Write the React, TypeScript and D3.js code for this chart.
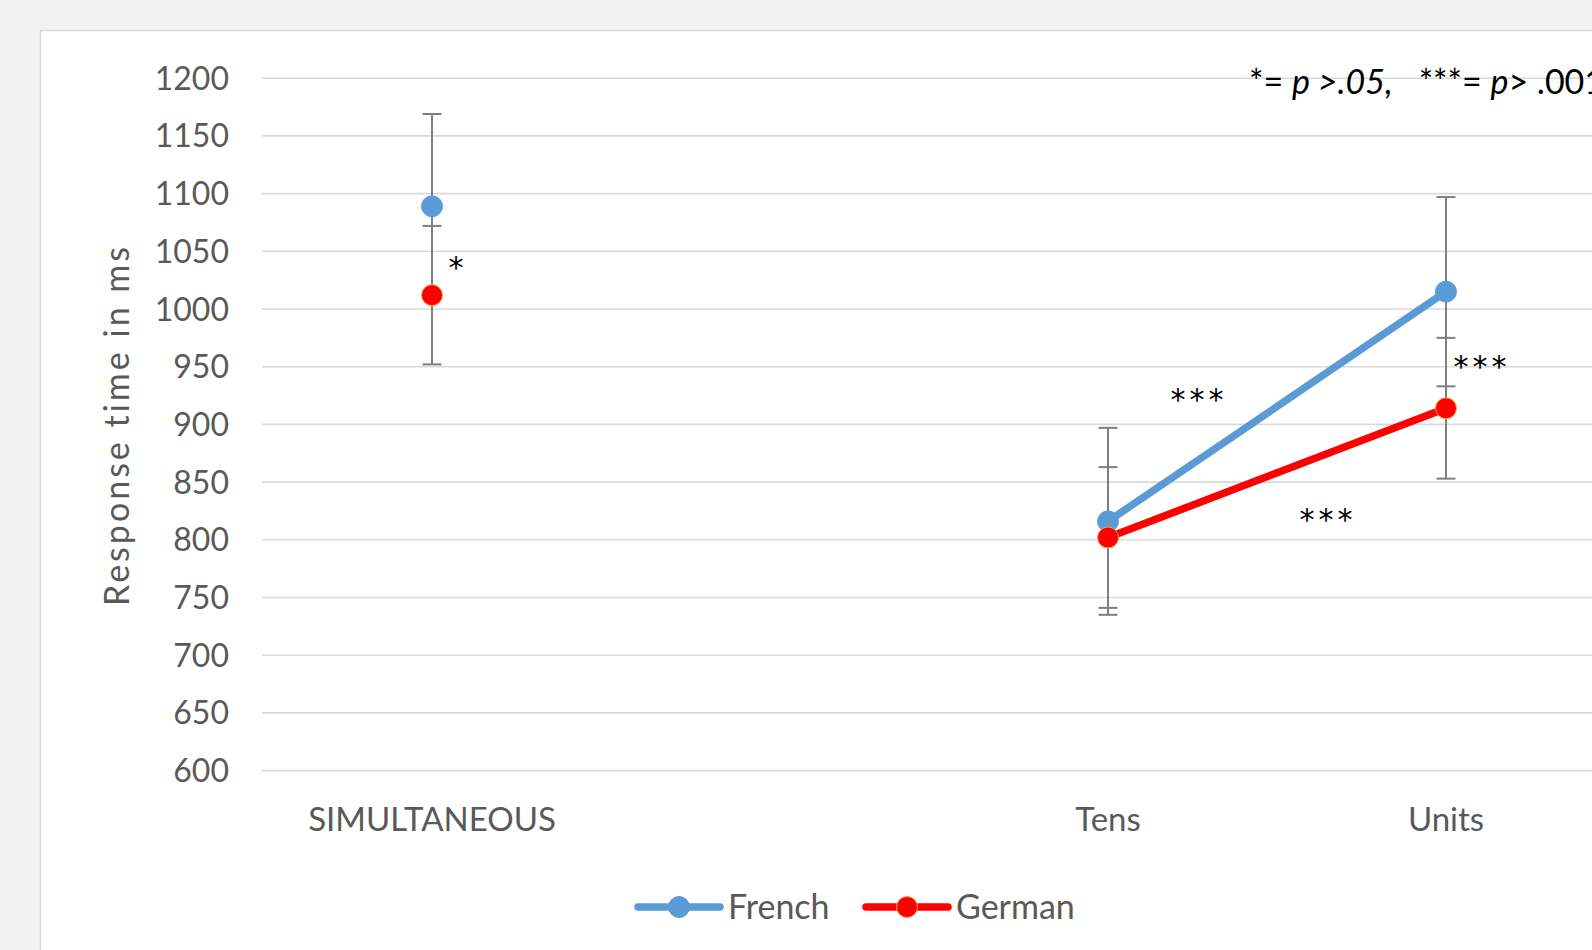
import React from "react";
import * as d3 from "d3";

const categories = ["SIMULTANEOUS", "gap", "Tens", "Units"];
const categoryLabels = ["SIMULTANEOUS", "", "Tens", "Units"];
const frenchValues: (number | null)[] = [1089, null, 816, 1015];
const germanValues: (number | null)[] = [1012, null, 802, 914];
const frenchErrors: (number | null)[] = [80, null, 81, 82];
const germanErrors: (number | null)[] = [60, null, 61, 61];
const yTicks = [600, 650, 700, 750, 800, 850, 900, 950, 1000, 1050, 1100, 1150, 1200];
const seriesNames = ["French", "German"];
const seriesColors = ["#5b9bd5", "#ff0000"];

type Annot = { cat: string; value: number; dx: number; text: string };
const annotations: Annot[] = [
  { cat: "SIMULTANEOUS", value: 1041, dx: 26, text: "*" },
  { cat: "Tens", value: 927, dx: 91, text: "***" },
  { cat: "Units", value: 823, dx: -118, text: "***" },
  { cat: "Units", value: 955, dx: 36, text: "***" },
];

const W = 1592;
const H = 950;
const FONT = "Lato, 'Open Sans', sans-serif";
const TEXT_GRAY = "#595959";

export default function App() {
  const x = d3.scaleBand<string>().domain(categories).range([263, 1615]).padding(0);
  const y = d3.scaleLinear().domain([600, 1200]).range([770.6, 78.2]);
  const cx = (c: string) => (x(c) ?? 0) + x.bandwidth() / 2;

  const series = [
    { name: seriesNames[0], values: frenchValues, errors: frenchErrors, color: seriesColors[0] },
    { name: seriesNames[1], values: germanValues, errors: germanErrors, color: seriesColors[1] },
  ];

  const line = d3
    .line<number | null>()
    .defined((d) => d != null)
    .x((_, i) => cx(categories[i]))
    .y((d) => y(d as number));

  const capHalf = 9.5;

  return (
    <svg
      width={W}
      height={H}
      style={{ position: "absolute", left: 0, top: 0, display: "block" }}
    >
      <rect x={0} y={0} width={W} height={H} fill="#f2f2f2" />
      <rect x={40.5} y={30.5} width={W + 20} height={H + 20} fill="#ffffff" stroke="#d9d9d9" strokeWidth={1.5} />

      {/* gridlines */}
      {yTicks.map((t) => (
        <line key={t} x1={262} x2={W} y1={y(t)} y2={y(t)} stroke="#d9d9d9" strokeWidth={1.6} />
      ))}

      {/* y tick labels */}
      {yTicks.map((t) => (
        <text
          key={"l" + t}
          x={229}
          y={y(t)}
          dy="0.36em"
          textAnchor="end"
          fontFamily={FONT}
          fontSize={32}
          fill={TEXT_GRAY}
        >
          {t}
        </text>
      ))}

      {/* y axis title */}
      <text
        transform={`translate(129, ${425}) rotate(-90)`}
        textAnchor="middle"
        fontFamily={FONT}
        fontSize={34}
        letterSpacing={3}
        fill={TEXT_GRAY}
      >
        Response time in ms
      </text>

      {/* x labels */}
      {categories.map((c, i) => (
        <text
          key={"x" + c}
          x={cx(c)}
          y={831}
          textAnchor="middle"
          fontFamily={FONT}
          fontSize={33}
          fill={TEXT_GRAY}
        >
          {categoryLabels[i]}
        </text>
      ))}

      {/* error bars */}
      {series.map((s) =>
        s.values.map((v, i) => {
          const e = s.errors[i];
          if (v == null || e == null) return null;
          const xc = cx(categories[i]);
          const y1 = y(v + e);
          const y2 = y(v - e);
          return (
            <g key={s.name + "e" + i} stroke="#7f7f7f" strokeWidth={2}>
              <line x1={xc} x2={xc} y1={y1} y2={y2} />
              <line x1={xc - capHalf} x2={xc + capHalf} y1={y1} y2={y1} />
              <line x1={xc - capHalf} x2={xc + capHalf} y1={y2} y2={y2} />
            </g>
          );
        })
      )}

      {/* lines */}
      {series.map((s) => (
        <path
          key={s.name + "line"}
          d={line(s.values) ?? ""}
          fill="none"
          stroke={s.color}
          strokeWidth={7.5}
          strokeLinecap="round"
          strokeLinejoin="round"
        />
      ))}

      {/* markers */}
      {series.map((s, si) =>
        s.values.map((v, i) =>
          v == null ? null : (
            <circle
              key={s.name + "m" + i}
              cx={cx(categories[i])}
              cy={y(v)}
              r={10.5}
              fill={s.color}
              stroke={si === 1 ? "#f6a04d" : s.color}
              strokeWidth={1}
            />
          )
        )
      )}

      {/* significance annotations */}
      {annotations.map((a, i) => (
        <text
          key={"a" + i}
          x={cx(a.cat) + a.dx}
          y={y(a.value)}
          textAnchor="middle"
          fontFamily="'DejaVu Sans', sans-serif"
          fontSize={30}
          letterSpacing={4}
          fill="#000000"
          dy="0.55em"
        >
          {a.text}
        </text>
      ))}

      {/* p-value key */}
      <text x={1249} y={94} fontFamily={FONT} fontSize={34} fill="#000000">
        <tspan>*= </tspan>
        <tspan fontStyle="italic">p &gt;.05,</tspan>
        <tspan>{"\u00a0\u00a0\u00a0***= "}</tspan>
        <tspan fontStyle="italic">p</tspan>
        <tspan>&gt; .001</tspan>
      </text>

      {/* legend */}
      {series.map((s, i) => {
        const x0 = i === 0 ? 638 : 866;
        const ly = 907;
        return (
          <g key={"leg" + s.name}>
            <line x1={x0} x2={x0 + 82} y1={ly} y2={ly} stroke={s.color} strokeWidth={7.5} strokeLinecap="round" />
            <circle cx={x0 + 41} cy={ly} r={10.5} fill={s.color} stroke={i === 1 ? "#f6a04d" : s.color} strokeWidth={1} />
            <text x={x0 + 90} y={ly} dy="0.36em" fontFamily={FONT} fontSize={34} fill={TEXT_GRAY}>
              {s.name}
            </text>
          </g>
        );
      })}
    </svg>
  );
}
